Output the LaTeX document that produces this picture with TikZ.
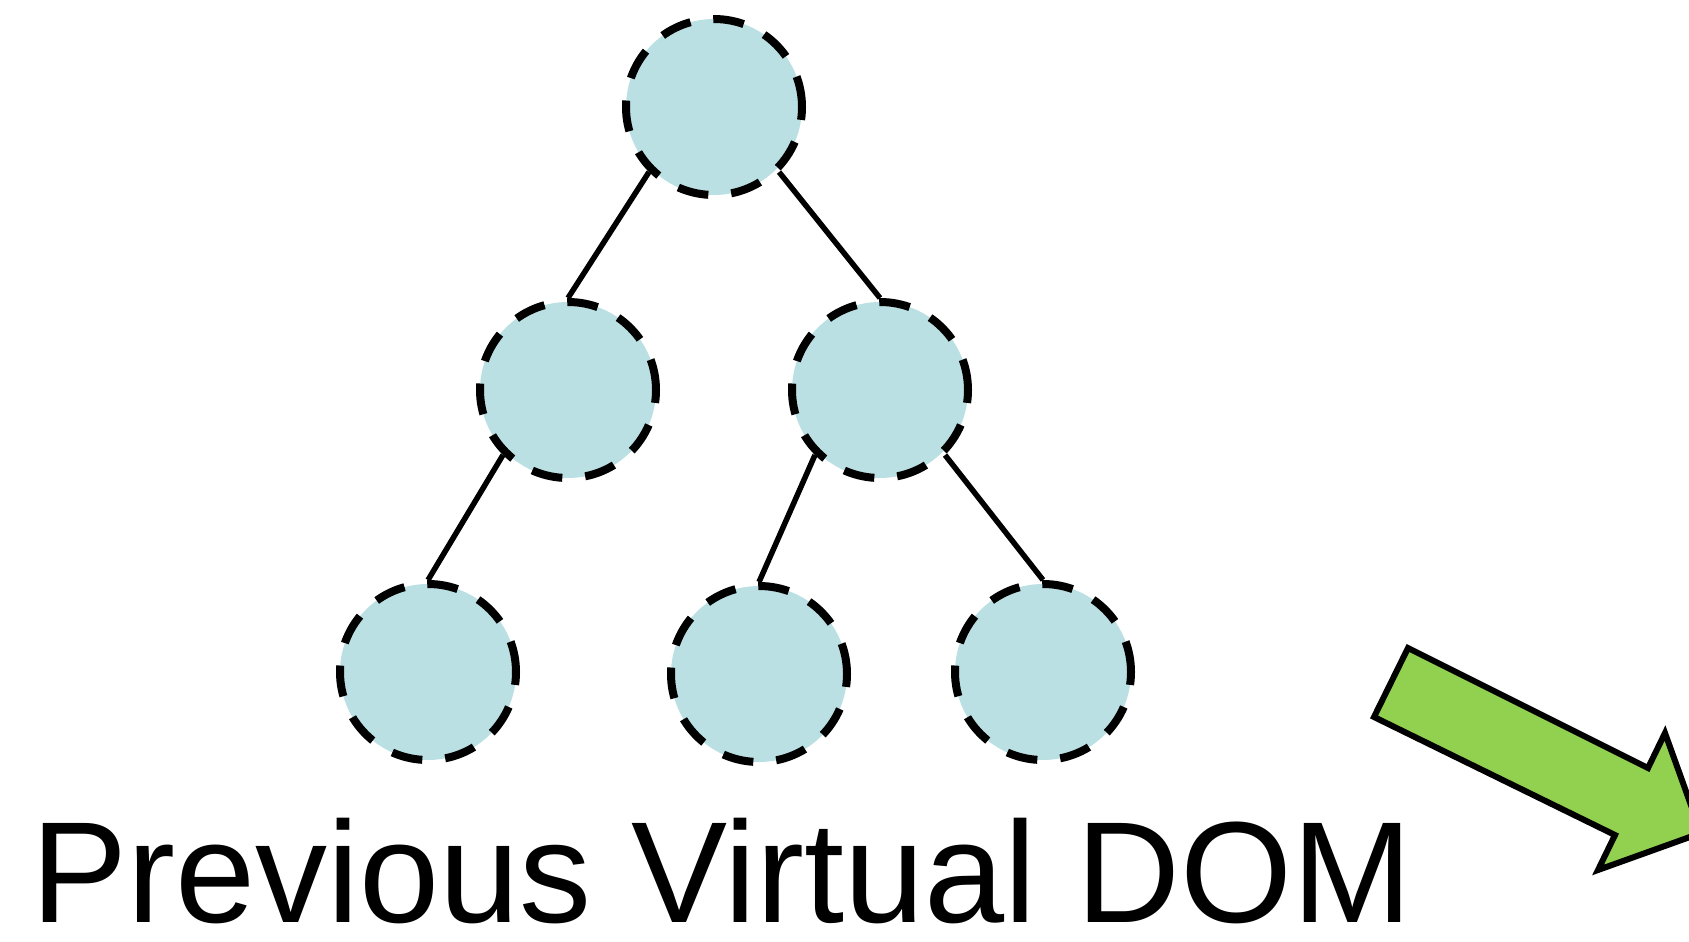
\documentclass[tikz,border=0pt]{standalone}
\usepackage{fontspec}
\setmainfont{Liberation Sans}
\definecolor{nodefill}{HTML}{BAE0E3}
\definecolor{arrowgreen}{HTML}{92D050}
\tikzset{
  vnode/.style={circle, fill=nodefill, draw=black, line width=8pt, dash pattern=on 31pt off 23pt, minimum size=176pt, inner sep=0pt},
  edge/.style={draw=black, line width=5.5pt},
  bigarrow/.style={fill=arrowgreen, draw=black, line width=6pt, line join=miter}
}
\begin{document}
\begin{tikzpicture}[x=1pt,y=-1pt]
\useasboundingbox (0,0) rectangle (1689,942);
\node[vnode] (top) at (714,107) {};
\node[vnode] (ml) at (568,390) {};
\node[vnode] (mr) at (880,390) {};
\node[vnode] (bl) at (428,672) {};
\node[vnode] (bm) at (759,674) {};
\node[vnode] (br) at (1043,672) {};
\draw[edge] (top.-135) -- (ml.north);
\draw[edge] (top.-45) -- (mr.north);
\draw[edge] (ml.-135) -- (bl.north);
\draw[edge] (mr.-135) -- (bm.north);
\draw[edge] (mr.-45) -- (br.north);
\node[anchor=base west, inner sep=0pt, text depth=0pt, font=\fontsize{144pt}{160pt}\selectfont] (title) at (31,922) {Previous Virtual DOM};
\draw[bigarrow] (1408,648) -- (1648,768) -- (1665,733) -- (1701,833) -- (1598,870) -- (1615,835) -- (1374,717) -- cycle;
\end{tikzpicture}
\end{document}
